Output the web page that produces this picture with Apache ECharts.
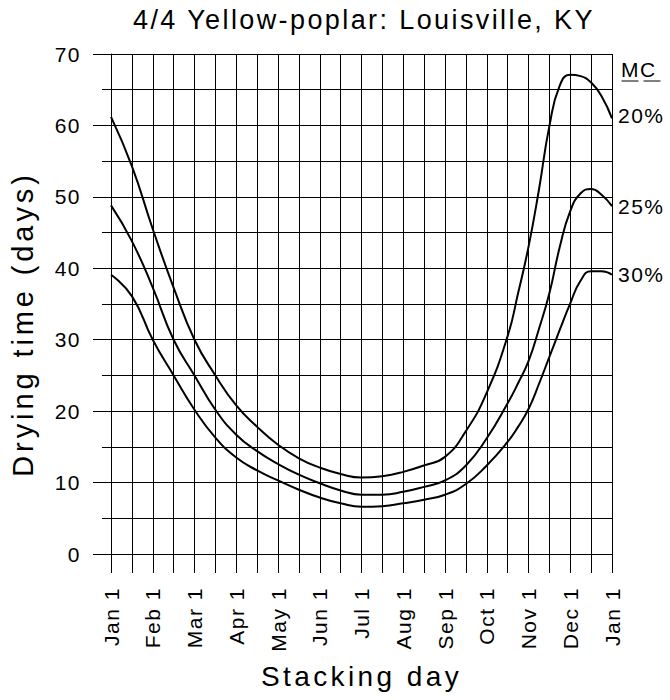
<!DOCTYPE html>
<html>
<head>
<meta charset="utf-8">
<script src="https://cdn.jsdelivr.net/npm/echarts@6/dist/echarts.min.js"></script>
<style>
  html, body { margin: 0; padding: 0; background: #fff; }
  #chart { width: 670px; height: 700px; }
  svg text { letter-spacing: 1.5px; }
  svg text[style*="27px"] { letter-spacing: 2.4px; }
  svg text[style*="28px"] { letter-spacing: 3.4px; }
  svg text[style*="29px"] { letter-spacing: 3.9px; }
</style>
</head>
<body>
<div id="chart"></div>
<script>
// Stacking day in months from Jan 1 (0 = Jan 1, 12 = next Jan 1)
const months = [0, 0.5, 1, 1.5, 2, 2.5, 3, 3.5, 4, 4.5, 5, 5.5, 6, 6.5, 7, 7.5, 8, 8.5, 9, 9.5, 9.75, 10, 10.25, 10.5, 10.75, 11, 11.25, 11.5, 11.75, 12];
// Drying time (days) for each target MC
const mc20 = [61.2, 54.3, 45.5, 37.3, 30.0, 25.0, 20.8, 17.8, 15.3, 13.4, 12.1, 11.2, 10.7, 10.9, 11.5, 12.4, 13.6, 17.2, 22.6, 30.5, 36.5, 43.0, 51.0, 59.9, 65.6, 67.1, 66.9, 66.0, 64.1, 61.0];
const mc25 = [48.8, 43.8, 37.3, 30.0, 25.0, 20.2, 16.7, 14.4, 12.6, 11.1, 9.9, 8.9, 8.3, 8.3, 8.7, 9.4, 10.3, 12.4, 16.2, 21.1, 23.9, 27.0, 31.5, 36.5, 43.0, 48.0, 50.5, 51.1, 50.3, 48.7];
const mc30 = [39.1, 36.1, 30.0, 25.0, 20.2, 16.3, 13.5, 11.7, 10.3, 9.0, 7.9, 7.1, 6.6, 6.7, 7.1, 7.6, 8.3, 9.8, 12.4, 15.7, 17.8, 20.3, 23.8, 27.6, 31.4, 35.1, 38.3, 39.6, 39.6, 39.1];
const seriesNames = ['20%', '25%', '30%'];
const monthLabels = ['Jan 1', 'Feb 1', 'Mar 1', 'Apr 1', 'May 1', 'Jun 1', 'Jul 1', 'Aug 1', 'Sep 1', 'Oct 1', 'Nov 1', 'Dec 1', 'Jan 1'];
const yTicks = [0, 10, 20, 30, 40, 50, 60, 70];

const FONT = "'Liberation Sans', Arial, sans-serif";
const chart = echarts.init(document.getElementById('chart'), null, { renderer: 'svg' });

function pairs(vals) { return months.map((m, i) => [m, vals[i]]); }

function mkSeries(name, vals, offset) {
  return {
    name: name,
    type: 'line',
    data: pairs(vals),
    smooth: 0.5,
    symbol: 'none',
    silent: true,
    lineStyle: { color: '#000', width: 2 },
    endLabel: {
      show: true,
      formatter: name,
      color: '#000',
      fontSize: 21,
      fontFamily: FONT,
      distance: 6,
      offset: offset
    }
  };
}

const option = {
  animation: false,
  backgroundColor: '#fff',
  title: {
    text: '4/4 Yellow-poplar: Louisville, KY',
    left: 133,
    top: 6,
    padding: 0,
    textStyle: { fontSize: 27, fontWeight: 'normal', color: '#000', fontFamily: FONT }
  },
  grid: { left: 111, right: 58, top: 54, bottom: 146, containLabel: false },
  xAxis: {
    type: 'value',
    min: 0, max: 12, interval: 0.5,
    name: 'Stacking day',
    nameLocation: 'middle',
    nameGap: 108,
    nameTextStyle: { fontSize: 28, color: '#000', fontFamily: FONT },
    axisLine: { show: true, lineStyle: { color: '#000', width: 1 } },
    axisTick: { show: true, length: 19, lineStyle: { color: '#000', width: 1 } },
    axisLabel: {
      rotate: 90,
      margin: 33,
      fontSize: 21,
      color: '#000',
      fontFamily: FONT,
      formatter: function (v) {
        return Number.isInteger(v) ? monthLabels[v] : '';
      }
    },
    splitLine: { show: true, lineStyle: { color: '#000', width: 1 } }
  },
  yAxis: {
    type: 'value',
    min: 0, max: 70, interval: 10,
    name: 'Drying time (days)',
    nameLocation: 'middle',
    nameRotate: 90,
    nameGap: 74,
    nameTextStyle: { fontSize: 29, color: '#000', fontFamily: FONT, padding: [0, 40, 0, 0] },
    axisLine: { show: true, lineStyle: { color: '#000', width: 1 } },
    axisTick: { show: true, length: 18, lineStyle: { color: '#000', width: 1 } },
    minorTick: { show: true, splitNumber: 2, length: 9, lineStyle: { color: '#000', width: 1 } },
    axisLabel: {
      margin: 30,
      fontSize: 21,
      color: '#000',
      fontFamily: FONT,
      formatter: function (v) { return yTicks.indexOf(v) >= 0 ? String(v) : ''; }
    },
    splitLine: { show: true, lineStyle: { color: '#000', width: 1 } },
    minorSplitLine: { show: true, lineStyle: { color: '#000', width: 1 } }
  },
  graphic: [
    { type: 'text', left: 621, top: 59, silent: true,
      style: { text: 'MC', fontSize: 21, fontFamily: FONT, fill: '#000' } },
    { type: 'line', silent: true, shape: { x1: 621.5, y1: 81, x2: 638.5, y2: 81 }, style: { stroke: '#000', lineWidth: 1 } },
    { type: 'line', silent: true, shape: { x1: 643.5, y1: 81, x2: 660.5, y2: 81 }, style: { stroke: '#000', lineWidth: 1 } }
  ],
  series: [
    mkSeries(seriesNames[0], mc20, [0, -3]),
    mkSeries(seriesNames[1], mc25, [0, 0]),
    mkSeries(seriesNames[2], mc30, [0, 0])
  ]
};
chart.setOption(option);
</script>
</body>
</html>
